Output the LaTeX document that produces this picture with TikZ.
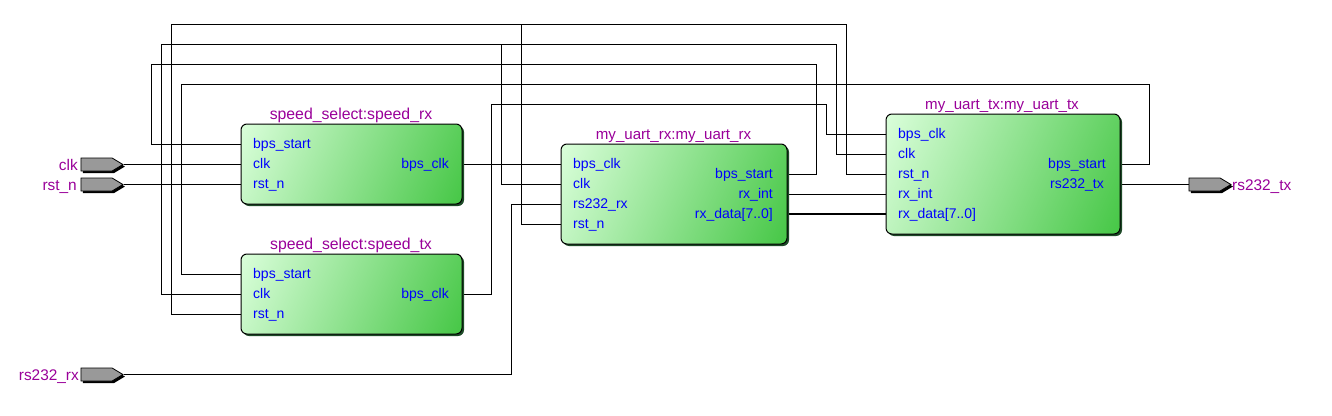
\documentclass[tikz,border=0pt]{standalone}
\usepackage{fontspec}
\setmainfont{Liberation Sans}
\usetikzlibrary{shapes.symbols,shadows}
\definecolor{instc}{HTML}{990099}
\definecolor{pinc}{HTML}{0000FF}
\definecolor{gradlight}{HTML}{DCFFDC}
\definecolor{graddark}{HTML}{44C644}
\definecolor{shadowc}{HTML}{1E4A28}
\definecolor{portc}{HTML}{999999}
\pgfdeclareverticalshading{blockgrad}{100bp}{color(0bp)=(graddark); color(16bp)=(graddark); color(84bp)=(gradlight); color(100bp)=(gradlight)}
\tikzset{
  block/.style={draw=black,line width=1pt,rounded corners=6pt,inner sep=0pt,
    shading=blockgrad,shading angle=66,
    general shadow={fill=shadowc,shadow xshift=2pt,shadow yshift=-2pt}},
  port/.style={shape=signal,signal to=east,signal pointer angle=62,draw=black,line width=.8pt,fill=portc,
    inner sep=0pt,minimum width=42pt,minimum height=13pt,
    general shadow={fill=black,shadow xshift=2pt,shadow yshift=-2pt}},
  wire/.style={draw=black,line width=1pt},
  bus/.style={draw=black,line width=2.2pt},
  pinl/.style={text=pinc,font=\fontsize{14}{14}\selectfont,inner sep=0pt,anchor=base west},
  pinr/.style={text=pinc,font=\fontsize{14}{14}\selectfont,inner sep=0pt,anchor=base east},
  inst/.style={text=instc,font=\fontsize{15.8}{16}\selectfont,inner sep=0pt,anchor=base},
  instu/.style={text=instc,font=\fontsize{15.1}{16}\selectfont,inner sep=0pt,anchor=base},
  portl/.style={text=instc,font=\fontsize{15.4}{16}\selectfont,inner sep=0pt,anchor=base east},
  portr/.style={text=instc,font=\fontsize{15.4}{16}\selectfont,inner sep=0pt,anchor=base west},
}
\begin{document}
\begin{tikzpicture}[x=1pt,y=-1pt]
\useasboundingbox (0,0) rectangle (1332,415);
% pin coordinates
\coordinate (srStart) at (241,144);
\coordinate (srClk) at (241,164);
\coordinate (srRst) at (241,184);
\coordinate (srOut) at (463,164);
\coordinate (stStart) at (241,274);
\coordinate (stClk) at (241,294);
\coordinate (stRst) at (241,314);
\coordinate (stOut) at (463,294);
\coordinate (urBps) at (561,164);
\coordinate (urClk) at (561,184);
\coordinate (urRx) at (561,204);
\coordinate (urRst) at (561,224);
\coordinate (urStart) at (788,174);
\coordinate (urInt) at (788,194);
\coordinate (urData) at (788,214);
\coordinate (utBps) at (886,134);
\coordinate (utClk) at (886,154);
\coordinate (utRst) at (886,174);
\coordinate (utInt) at (886,194);
\coordinate (utData) at (886,214);
\coordinate (utStart) at (1121,164);
\coordinate (utTx) at (1121,184);
% ports
\node[port] (pclk) at (96.5,164.5) {};
\node[port] (prst) at (96.5,184.5) {};
\node[port] (prx) at (96.5,374.5) {};
\node[port] (ptx) at (1204.5,184.5) {};
% wires
\draw[wire] (pclk.east |- srClk) -- (srClk);
\draw[wire] (prst.east |- srRst) -- (srRst);
\draw[wire] (srOut) -- (urBps);
\draw[wire] (srStart) -| (151,64) -| (816,174) -- (urStart);
\draw[wire] (stRst) -| (171,24) -| (846,174) -- (utRst);
\draw[wire] (521,24) |- (urRst);
\draw[wire] (stClk) -| (161,44) -| (836,154) -- (utClk);
\draw[wire] (501,44) |- (urClk);
\draw[wire] (stStart) -| (181,84) -| (1149,164) -- (utStart);
\draw[wire] (stOut) -| (491,104) -| (826,134) -- (utBps);
\draw[wire] (prx.east |- 0,374) -| (511,204) -- (urRx);
\draw[wire] (urInt) -- (utInt);
\draw[bus] (urData) -- (utData);
\draw[wire] (utTx) -- (ptx.west |- utTx);
% blocks
\node[block,minimum width=221pt,minimum height=80pt] (speedrx) at (351.5,164) {};
\node[block,minimum width=221pt,minimum height=80pt] (speedtx) at (351.5,294) {};
\node[block,minimum width=226pt,minimum height=100pt] (uartrx) at (674,194) {};
\node[block,minimum width=234pt,minimum height=120pt] (uarttx) at (1003,174) {};
% instance names
\node[inst] (nsr) at (351,119) {speed\_select:speed\_rx};
\node[inst] (nst) at (351,249) {speed\_select:speed\_tx};
\node[instu] (nur) at (673.5,139) {my\_uart\_rx:my\_uart\_rx};
\node[instu] (nut) at (1002,109) {my\_uart\_tx:my\_uart\_tx};
% pin labels
\node[pinl] (l1) at (253,148) {bps\_start};
\node[pinl] (l2) at (253,168) {clk};
\node[pinl] (l3) at (253,188) {rst\_n};
\node[pinr] (l4) at (449,168) {bps\_clk};
\node[pinl] (l5) at (253,278) {bps\_start};
\node[pinl] (l6) at (253,298) {clk};
\node[pinl] (l7) at (253,318) {rst\_n};
\node[pinr] (l8) at (449,298) {bps\_clk};
\node[pinl] (l9) at (573,168) {bps\_clk};
\node[pinl] (l10) at (573,188) {clk};
\node[pinl] (l11) at (573,208) {rs232\_rx};
\node[pinl] (l12) at (573,228) {rst\_n};
\node[pinr] (l13) at (773,178) {bps\_start};
\node[pinr] (l14) at (773,198) {rx\_int};
\node[pinr] (l15) at (773,218) {rx\_data[7..0]};
\node[pinl] (l16) at (898,138) {bps\_clk};
\node[pinl] (l17) at (898,158) {clk};
\node[pinl] (l18) at (898,178) {rst\_n};
\node[pinl] (l19) at (898,198) {rx\_int};
\node[pinl] (l20) at (898,218) {rx\_data[7..0]};
\node[pinr] (l21) at (1106,168) {bps\_start};
\node[pinr] (l22) at (1104,188) {rs232\_tx};
% port labels
\node[portl] (tclk) at (78,170) {clk};
\node[portl] (trst) at (77,190) {rst\_n};
\node[portl] (trx) at (79,380) {rs232\_rx};
\node[portr] (ttx) at (1232,190) {rs232\_tx};
\end{tikzpicture}
\end{document}
